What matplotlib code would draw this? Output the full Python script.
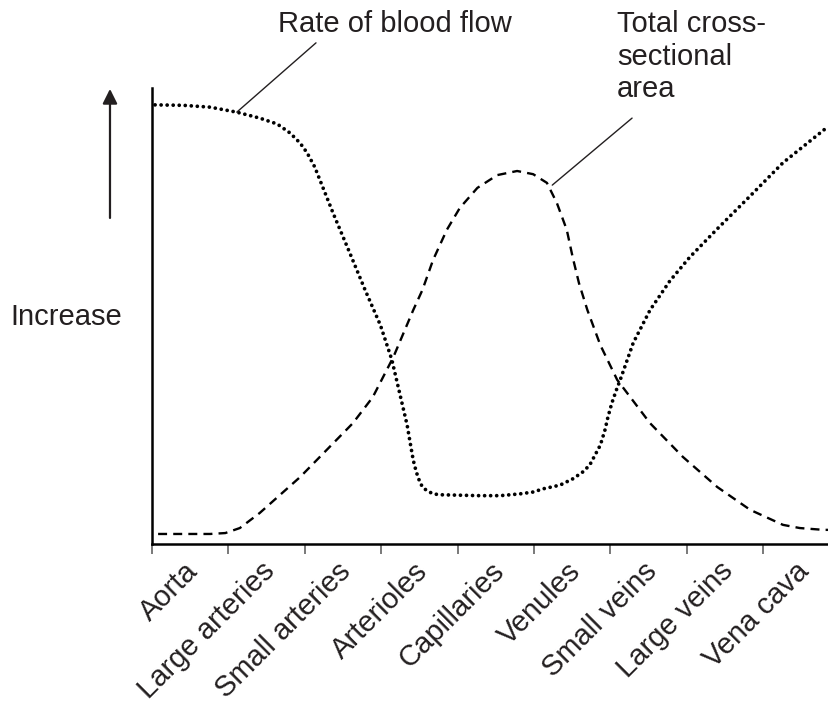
import matplotlib
matplotlib.use("Agg")
import matplotlib.pyplot as plt
from matplotlib.transforms import ScaledTranslation

plt.rcParams['font.family'] = ['Liberation Sans', 'DejaVu Sans']

# vessel categories along the x axis
vessels = ['Aorta', 'Large arteries', 'Small arteries', 'Arterioles', 'Capillaries',
           'Venules', 'Small veins', 'Large veins', 'Vena cava']

# rate of blood flow (dotted), x in category units
flow_x = [0.04, 0.41, 0.76, 1.11, 1.41, 1.64, 1.81, 1.94, 2.03, 2.13, 2.37, 2.59, 2.79, 2.99,
          3.14, 3.27, 3.34, 3.38, 3.42, 3.46, 3.51, 3.55, 3.61, 3.68, 3.77, 4.29, 4.56, 4.82,
          4.99, 5.12, 5.34, 5.51, 5.64, 5.73, 5.80, 5.87, 5.93, 5.97, 6.02, 6.08, 6.13, 6.30,
          6.52, 6.78, 7.04, 7.40, 7.83, 8.26, 8.84]
flow_y = [96.3, 96.2, 95.8, 94.7, 93.4, 92.1, 90.1, 87.9, 85.8, 82.7, 72.6, 63.8, 55.7, 48.0,
          40.4, 31.1, 26.1, 22.2, 18.4, 15.8, 13.4, 12.3, 11.6, 11.0, 10.8, 10.6, 10.6, 11.0,
          11.4, 12.1, 12.9, 14.3, 15.8, 17.3, 19.5, 21.7, 25.0, 27.9, 30.9, 33.8, 36.0, 44.1,
          51.3, 57.7, 62.9, 69.1, 76.3, 83.6, 91.4]

# total cross-sectional area (dashed)
area_x = [0.08, 0.76, 0.96, 1.15, 1.41, 1.94, 2.63, 2.89, 3.16, 3.42, 3.54, 3.68, 3.86, 4.03,
          4.26, 4.52, 4.78, 4.99, 5.17, 5.30, 5.43, 5.51, 5.59, 5.70, 5.87, 6.09, 6.52, 6.95,
          7.40, 7.83, 8.26, 8.48, 8.79, 8.85]
area_y = [2.2, 2.2, 2.4, 3.5, 6.8, 14.7, 26.5, 32.2, 41.0, 51.3, 55.7, 62.3, 68.9, 73.7,
          78.1, 80.9, 81.8, 81.1, 79.2, 74.8, 68.9, 62.7, 57.2, 51.3, 43.6, 36.0, 26.5, 19.1,
          12.5, 7.5, 4.2, 3.5, 3.1, 3.1]

txt = '#231f20'
fs = 21
fig = plt.figure(figsize=(8.29, 7.07), dpi=100)
ax = fig.add_axes([152/829, 163/707, 676/829, 456/707])

ax.plot(flow_x, flow_y, color='black', lw=2.7, linestyle=(0, (0.01, 1.6)),
        dash_capstyle='round', clip_on=False)
ax.plot(area_x, area_y, color='black', lw=1.7, linestyle=(0, (3.8, 2.6)),
        solid_joinstyle='round', clip_on=False)

ax.set_xlim(0, 8.85)
ax.set_ylim(0, 100)
for s in ['top', 'right']:
    ax.spines[s].set_visible(False)
ax.spines['left'].set_linewidth(1.8)
ax.spines['bottom'].set_linewidth(1.8)
ax.set_yticks([])
ax.set_xticks(range(len(vessels)))
ax.set_xticklabels(vessels, rotation=45, ha='right', va='center', rotation_mode='anchor',
                   fontsize=fs, color=txt)
ax.tick_params(axis='x', length=7.5, width=1.1, color='#555555', pad=9)
for lab in ax.get_xticklabels():
    lab.set_transform(lab.get_transform() + ScaledTranslation(0.42, 0, fig.dpi_scale_trans))

# labels with leader lines
ax.annotate('', xy=(1.11, 94.7), xytext=(2.147, 109.9), annotation_clip=False,
            arrowprops=dict(arrowstyle='-', lw=1.0, color=txt, shrinkA=0, shrinkB=0))
ax.text(3.18, 112.3, 'Rate of blood flow', ha='center', va='baseline', fontsize=fs,
        color=txt, clip_on=False)
ax.annotate('', xy=(5.24, 78.7), xytext=(6.285, 93.4), annotation_clip=False,
            arrowprops=dict(arrowstyle='-', lw=1.0, color=txt, shrinkA=0, shrinkB=0))
ax.text(6.09, 117.0, 'Total cross-\nsectional\narea', ha='left', va='top', fontsize=fs,
        color=txt, linespacing=1.2, clip_on=False)

# "Increase" arrow
ax.annotate('', xy=(-0.55, 99.8), xytext=(-0.55, 71.5), annotation_clip=False,
            arrowprops=dict(arrowstyle='-|>', lw=1.6, color=txt, mutation_scale=22,
                            shrinkA=0, shrinkB=0))
fig.text(10/829, (707-325)/707, 'Increase', ha='left', va='baseline', fontsize=fs, color=txt)

fig.savefig('out.png', dpi=100)
